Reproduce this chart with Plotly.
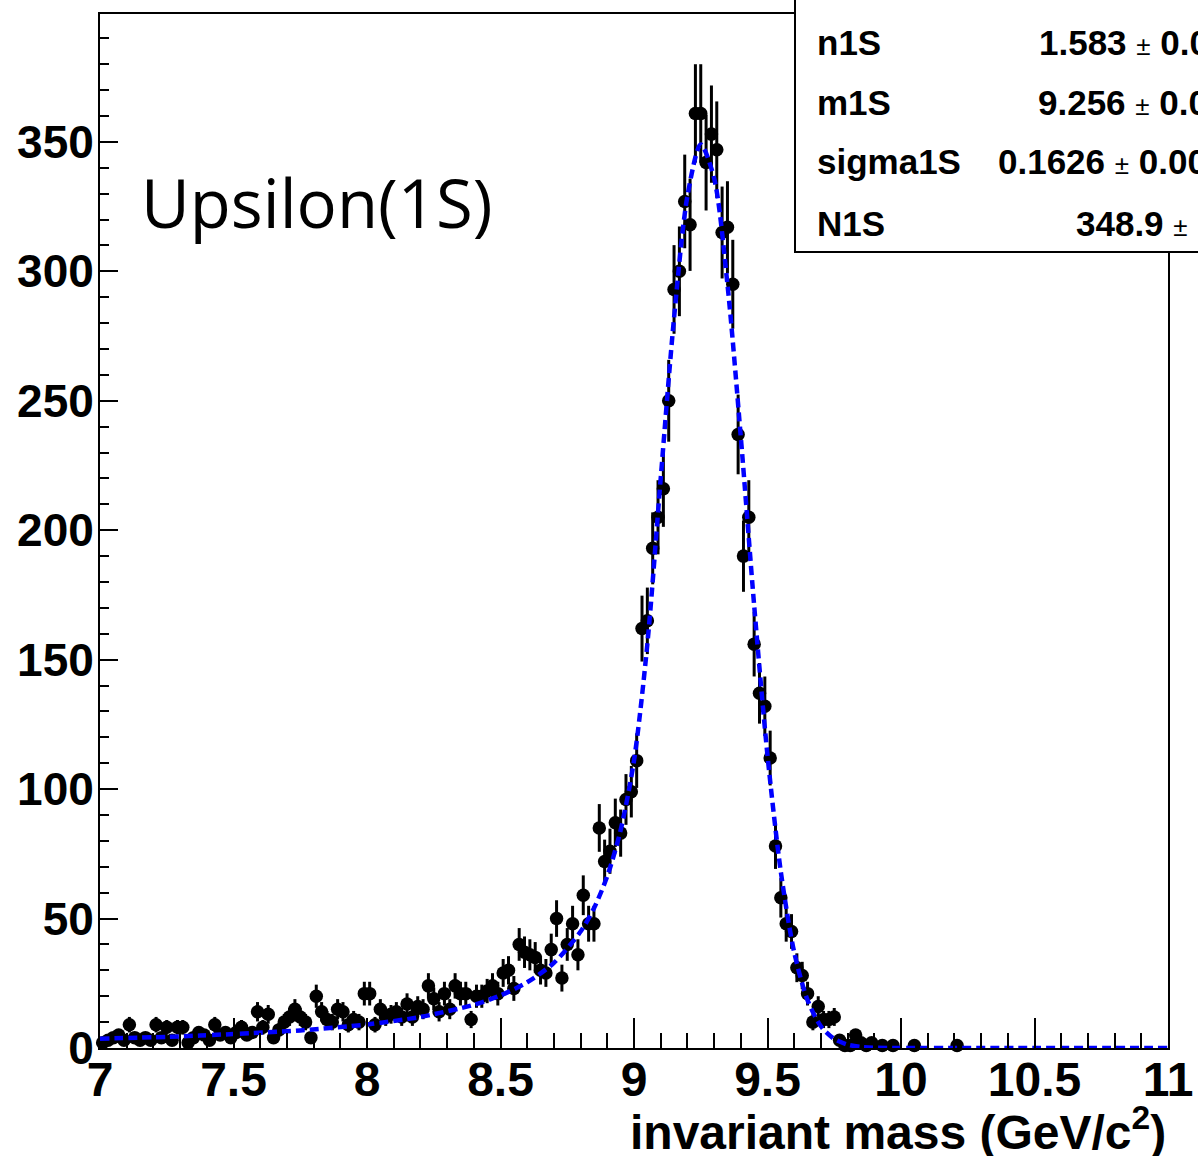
import numpy as np
import plotly.graph_objects as go

# ---------------- data ----------------
bin_low = 7.0
bin_width = 0.02
n_bins = 200

counts = [
    2, 3, 4, 5, 3, 9, 4, 3, 4, 3,
    9, 4, 8, 3, 8, 8, 2, 4, 6, 5,
    3, 9, 5, 6, 4, 6, 8, 5, 6, 14,
    8, 13, 4, 7, 10, 12, 15, 12, 10, 4,
    20, 14, 11, 10, 15, 14, 9, 11, 10, 21,
    21, 9, 15, 12, 13, 14, 12, 17, 12, 16,
    15, 24, 19, 14, 21, 15, 24, 21, 21, 11,
    20, 20, 22, 24, 21, 29, 30, 23, 40, 37,
    36, 35, 30, 29, 38, 50, 27, 40, 48, 36,
    59, 48, 48, 85, 72, 76, 87, 83, 96, 99,
    111, 162, 165, 193, 205, 216, 250, 293, 300, 327,
    318, 361, 361, 342, 353, 347, 315, 317, 295, 237,
    190, 205, 156, 137, 132, 112, 78, 58, 48, 45,
    31, 28, 21, 10, 16, 11, 11, 12, 3, 1,
    1, 5, 2, 1, 2, 0, 1, 0, 1, 0,
    0, 0, 1, 0, 0, 0, 0, 0, 0, 0,
    1, 0, 0, 0, 0, 0, 0, 0, 0, 0,
    0, 0, 0, 0, 0, 0, 0, 0, 0, 0,
    0, 0, 0, 0, 0, 0, 0, 0, 0, 0,
    0, 0, 0, 0, 0, 0, 0, 0, 0, 0,
]

# fit curve
fit_x = [7.0, 7.25, 7.5, 7.75, 8.0, 8.2, 8.4, 8.5, 8.6, 8.7, 8.8, 8.85, 8.9,
         8.95, 9.0, 9.05, 9.1, 9.15, 9.2, 9.25, 9.3, 9.35, 9.4, 9.45, 9.5,
         9.55, 9.6, 9.65, 9.7, 9.75, 9.8, 9.85, 9.9, 10.0, 10.5, 11.0]
fit_y = [3.6, 4.3, 5.4, 6.8, 9.1, 12.0, 16.7, 20.3, 25.4, 32.9, 45.0, 54.0, 66.4,
         84.2, 111, 156, 220, 282, 329, 349, 336, 295, 236, 171, 113,
         68, 37, 18.5, 8.4, 3.5, 1.3, 0.4, 0.1, 0, 0, 0]

x_ticks = [7, 7.5, 8, 8.5, 9, 9.5, 10, 10.5, 11]
x_tick_labels = ["7", "7.5", "8", "8.5", "9", "9.5", "10", "10.5", "11"]
y_ticks = [0, 50, 100, 150, 200, 250, 300, 350]
y_tick_labels = ["0", "50", "100", "150", "200", "250", "300", "350"]

stat_names = ["n1S", "m1S", "sigma1S", "N1S"]
stat_values = ["1.583", "9.256", "0.1626", "348.9"]
stat_errors = ["0.0", "0.0", "0.00", ""]

title_text = "Upsilon(1S)"
x_title = "invariant mass (GeV/c<sup>2</sup>)"

# ---------------- figure ----------------
centers = bin_low + bin_width * (np.arange(n_bins) + 0.5)
cnt = np.array(counts, dtype=float)
mask = cnt > 0
xs = centers[mask]
ys = cnt[mask]
errs = np.sqrt(ys)

W, H = 1198, 1156
L, R, T, B = 100, 30, 14, 108
pw, ph = W - L - R, H - T - B

def px2x(px):
    return (px - L) / pw

def py2y(py):
    return (H - B - py) / ph

fig = go.Figure()

fig.add_trace(go.Scatter(
    x=xs, y=ys, mode="markers",
    marker=dict(color="black", size=13.5, symbol="circle"),
    error_y=dict(type="data", array=errs, visible=True, color="black", thickness=3, width=0),
    showlegend=False, cliponaxis=False,
))

fig.add_trace(go.Scatter(
    x=fit_x, y=fit_y, mode="lines",
    line=dict(color="#0000ff", width=4.5, dash="9px,5px", shape="spline", smoothing=0.8),
    hoverinfo="skip", showlegend=False,
))

font_fam = "Liberation Sans, Arial, Helvetica, sans-serif"
xtickfont = dict(family=font_fam, size=48, color="black", weight="bold")
ytickfont = dict(family=font_fam, size=46, color="black", weight="bold")

fig.update_xaxes(
    range=[7, 11], tickmode="array", tickvals=x_ticks, ticktext=x_tick_labels,
    ticks="inside", ticklen=30, tickwidth=2, tickcolor="black",
    minor=dict(dtick=0.1, tick0=7, ticks="inside", ticklen=15, tickwidth=2, tickcolor="black"),
    showline=True, linewidth=2, linecolor="black", mirror=True,
    showgrid=False, zeroline=False, tickfont=xtickfont, ticklabelstandoff=-12,
    automargin=False,
)
fig.update_yaxes(
    range=[0, 399.4], tickmode="array", tickvals=y_ticks, ticktext=y_tick_labels,
    ticks="inside", ticklen=18, tickwidth=2, tickcolor="black",
    minor=dict(dtick=10, tick0=0, ticks="inside", ticklen=9, tickwidth=2, tickcolor="black"),
    showline=True, linewidth=2, linecolor="black", mirror=True,
    showgrid=False, zeroline=False, tickfont=ytickfont, ticklabelstandoff=-5,
    automargin=False,
)

annotations = []
annotations.append(dict(
    text=x_title, xref="paper", yref="paper", x=1.0, y=py2y(1129),
    xanchor="right", yanchor="middle", showarrow=False,
    font=dict(family=font_fam, size=48, color="black", weight="bold"),
))
annotations.append(dict(
    text=title_text, xref="paper", yref="paper", x=px2x(139), y=py2y(202),
    xanchor="left", yanchor="middle", showarrow=False,
    font=dict(family="Open Sans, sans-serif", size=67, color="black"),
))

name_y = [42, 102, 162, 223]
value_x = [1037, 1036, 996, 1074]
for nm, val, er, yy, vx in zip(stat_names, stat_values, stat_errors, name_y, value_x):
    annotations.append(dict(
        text=nm, xref="paper", yref="paper", x=px2x(815), y=py2y(yy),
        xanchor="left", yanchor="middle", showarrow=False,
        font=dict(family=font_fam, size=35, color="black", weight="bold"),
    ))
    txt = val + " <span style='font-size:26px;font-weight:normal'>±</span>"
    if er:
        txt += " " + er
    annotations.append(dict(
        text=txt, xref="paper", yref="paper", x=px2x(vx), y=py2y(yy),
        xanchor="left", yanchor="middle", showarrow=False,
        font=dict(family=font_fam, size=35, color="black", weight="bold"),
    ))

shapes = [dict(
    type="rect", xref="paper", yref="paper",
    x0=px2x(795), x1=px2x(1230), y0=py2y(252), y1=py2y(-20),
    line=dict(color="black", width=2), fillcolor="white", layer="above",
)]

fig.update_layout(
    width=W, height=H,
    margin=dict(l=L, r=R, t=T, b=B, pad=0, autoexpand=False),
    paper_bgcolor="white", plot_bgcolor="white",
    annotations=annotations, shapes=shapes,
    showlegend=False,
)

fig.write_html("out.html")
